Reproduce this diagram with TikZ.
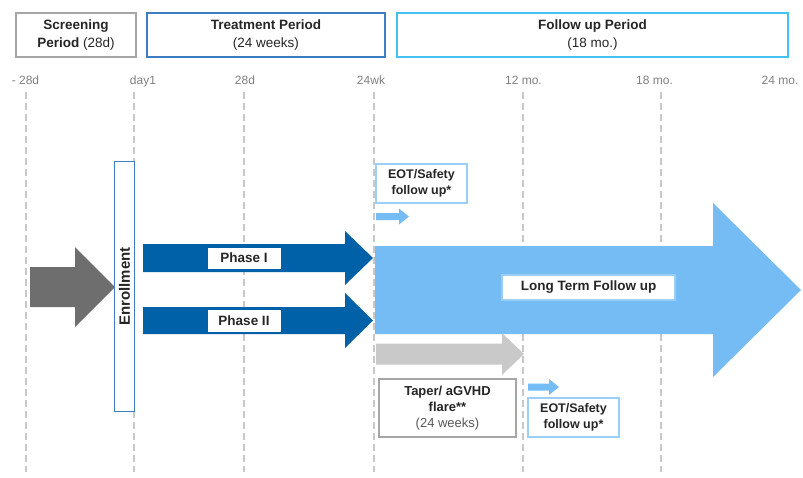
\documentclass[tikz,border=0pt]{standalone}
\usepackage{fontspec}
\setmainfont{Liberation Sans}
\definecolor{txt}{HTML}{262626}
\definecolor{ticktxt}{HTML}{7F7F7F}
\definecolor{grid}{HTML}{C8C8C8}
\definecolor{navy}{HTML}{0060A8}
\definecolor{sky}{HTML}{75BCF5}
\definecolor{darkgrey}{HTML}{6E6E6E}
\definecolor{lightgrey}{HTML}{C9C9C9}
\definecolor{boxgrey}{HTML}{A6A6A6}
\definecolor{boxblue}{HTML}{3D7EC2}
\definecolor{boxcyan}{HTML}{45C2F2}
\definecolor{boxpale}{HTML}{9CCFF5}
\tikzset{
  hdr/.style={draw, line width=1.6pt, fill=white},
  hdrtext/.style={align=center, font=\fontsize{13.5}{17.5}\selectfont, text=txt, inner sep=0pt},
  ticklabel/.style={font=\fontsize{12}{14}\selectfont, text=ticktxt, inner sep=0pt, anchor=base},
  gridline/.style={draw=grid, line width=1.1pt, dash pattern=on 7pt off 4pt},
  labelbox/.style={draw=#1, fill=white, line width=1pt, inner sep=0pt},
  lbltext/.style={font=\bfseries\fontsize{13.5}{16}\selectfont, text=txt, align=center, inner sep=0pt},
  eottext/.style={font=\bfseries\fontsize{12.5}{15.5}\selectfont, text=txt, align=center, inner sep=0pt},
}
% block arrow: style, tail x, head base x, tip x, centre y, shaft half height, head half height
\newcommand\blockarrow[7]{%
  \fill[#1] (#2,{#5-#6}) -- (#3,{#5-#6}) -- (#3,{#5-#7}) -- (#4,#5)
    -- (#3,{#5+#7}) -- (#3,{#5+#6}) -- (#2,{#5+#6}) -- cycle;}
\begin{document}
\begin{tikzpicture}[x=1pt, y=-1pt]
\useasboundingbox (0,0) rectangle (803,477);

% period headers
\draw[hdr, draw=boxgrey] (16,13) rectangle (136,57);
\node[hdrtext] (scr) at (76,35) {\textbf{Screening}\\\textbf{Period} (28d)};
\draw[hdr, draw=boxblue] (147,13) rectangle (385,57);
\node[hdrtext] (trt) at (266,35) {\textbf{Treatment Period}\\(24 weeks)};
\draw[hdr, draw=boxcyan, line width=2pt] (397,13) rectangle (788,57);
\node[hdrtext] (fup) at (592.5,35) {\textbf{Follow up Period}\\(18 mo.)};

% time axis labels
\node[ticklabel] (t1) at (25.5,84.5) {- 28d};
\node[ticklabel] (t2) at (143,84.5) {day1};
\node[ticklabel] (t3) at (245,84.5) {28d};
\node[ticklabel] (t4) at (371,84.5) {24wk};
\node[ticklabel] (t5) at (523.5,84.5) {12 mo.};
\node[ticklabel] (t6) at (654.5,84.5) {18 mo.};
\node[ticklabel] (t7) at (780,84.5) {24 mo.};

% vertical guide lines
\foreach \gx in {26,134,244,374,523,661}
  \draw[gridline] (\gx,92) -- (\gx,472);

% screening arrow into enrollment
\blockarrow{darkgrey}{30}{75}{115}{287}{20}{40}

% enrollment bar
\draw[draw=boxblue, fill=white, line width=1pt] (114,161) rectangle (134,411);
\node[rotate=90, font=\bfseries\fontsize{15}{17}\selectfont, text=txt, inner sep=0pt] (enr) at (124.5,286.5) {Enrollment};

% treatment phases
\blockarrow{navy}{143}{345}{373}{258}{14}{27}
\node[labelbox=navy, minimum width=74pt, minimum height=22pt] (p1) at (244,258) {};
\node[lbltext] at (p1) {Phase I};
\blockarrow{navy}{143}{345}{373}{320.5}{13.5}{27.5}
\node[labelbox=navy, minimum width=74pt, minimum height=23pt] (p2) at (244,320.5) {};
\node[lbltext] at (p2) {Phase II};

% long term follow up
\blockarrow{sky}{375}{713}{801}{290}{44}{87}
\node[labelbox=boxpale, line width=1.2pt, minimum width=173pt, minimum height=25pt] (ltf) at (588.5,287.5) {};
\node[lbltext] at (ltf) {Long Term Follow up};

% end of treatment (upper)
\node[labelbox=boxpale, line width=1.2pt, minimum width=91pt, minimum height=39pt] (eot1) at (421.5,183.5) {};
\node[eottext] at (eot1) {EOT/Safety\\follow up*};
\blockarrow{sky}{376}{399}{409}{216.5}{3.5}{8}

% taper
\blockarrow{lightgrey}{376}{502}{524}{354}{10.5}{21}
\draw[draw=boxgrey, fill=white, line width=1.2pt] (379,379) rectangle (516,437);
\node[align=center, inner sep=0pt, font=\fontsize{13}{16}\selectfont, text=txt] (tap) at (447.5,408) {\textbf{Taper/ aGVHD}\\\textbf{flare**}\\{\color{darkgrey!80!black}(24 weeks)}};

% end of treatment (lower)
\blockarrow{sky}{528}{549}{559}{387}{3.5}{8}
\node[labelbox=boxpale, line width=1.2pt, minimum width=91pt, minimum height=39pt] (eot2) at (573.5,417.5) {};
\node[eottext] at (eot2) {EOT/Safety\\follow up*};
\end{tikzpicture}
\end{document}
